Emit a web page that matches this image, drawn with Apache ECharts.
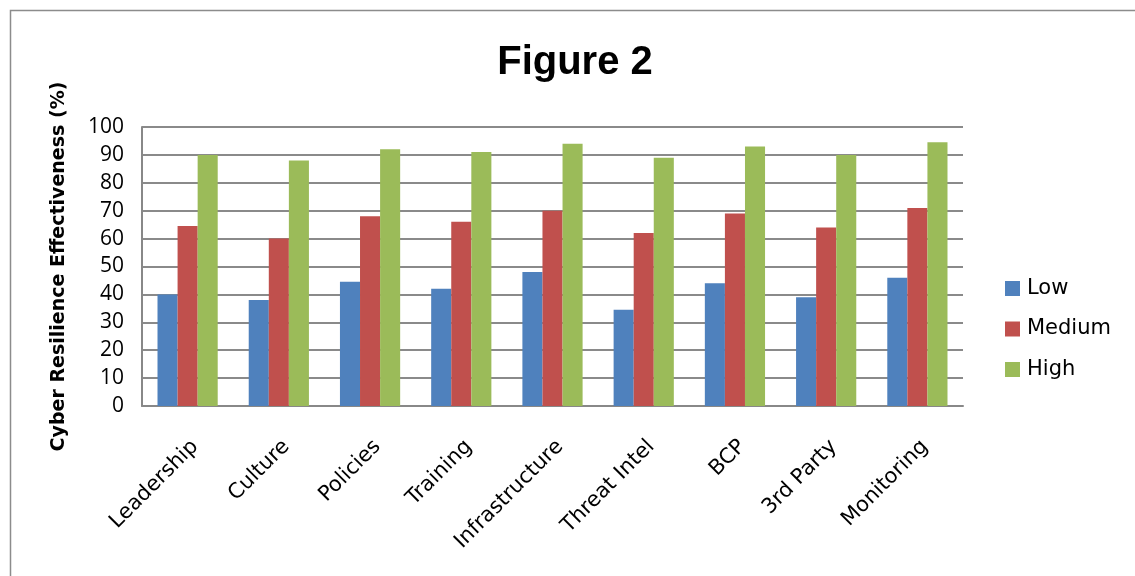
<!DOCTYPE html>
<html><head><meta charset="utf-8">
<script src="https://cdn.jsdelivr.net/npm/echarts@6/dist/echarts.min.js"></script>
<style>html,body{margin:0;padding:0;background:#fff}#c{width:1135px;height:576px}</style>
</head><body><div id="c"></div>
<script>
const categories = ['Leadership','Culture','Policies','Training','Infrastructure','Threat Intel','BCP','3rd Party','Monitoring'];
const lowValues = [40,38,44.5,42,48,34.5,44,39,46];
const mediumValues = [64.5,60,68,66,70,62,69,64,71];
const highValues = [90,88,92,91,94,89,93,90,94.5];
const yTicks = [0,10,20,30,40,50,60,70,80,90,100];

const chart = echarts.init(document.getElementById('c'), null, {renderer:'canvas'});
const titleFont = 'Liberation Sans Narrow, Liberation Sans, sans-serif';
chart.setOption({
  animation:false,
  backgroundColor:'#fff',
  graphic:[{type:'rect', shape:{x:10.5,y:10.5,width:1200,height:700}, style:{fill:'none', stroke:'#8c8c8c', lineWidth:1.5}, silent:true}],
  title:{text:'Figure 2', left:570, textAlign:'center', top:38,
    textStyle:{fontFamily:titleFont, fontWeight:'bold', fontSize:40, color:'#000'}},
  legend:{orient:'vertical', left:1000, top:271, itemWidth:15, itemHeight:15, itemGap:15.5,
    icon:'rect', textStyle:{fontFamily:'DejaVu Sans, sans-serif', fontSize:21, color:'#000', lineHeight:25, padding:[0,0,0,2]},
    data:['Low','Medium','High']},
  grid:{left:142, right:172, top:127, bottom:170},
  xAxis:{type:'category', data:categories,
    axisLine:{lineStyle:{color:'#888', width:2}}, axisTick:{show:false},
    axisLabel:{rotate:45, interval:0, fontFamily:'DejaVu Sans, sans-serif', fontSize:21, color:'#000', margin:30, verticalAlign:'top'}},
  yAxis:{type:'value', min:0, max:100, interval:10,
    name:'Cyber Resilience Effectiveness (%)', nameLocation:'middle', nameGap:73, nameRotate:90,
    nameTextStyle:{fontFamily:'DejaVu Sans, sans-serif', fontWeight:'bold', fontSize:19, color:'#000'},
    axisLine:{show:true, lineStyle:{color:'#888', width:2}},
    axisTick:{show:false},
    axisLabel:{fontFamily:'Open Sans, sans-serif', fontSize:21, color:'#000', margin:18,
      formatter:v=>yTicks.includes(v)?String(v):''},
    splitLine:{lineStyle:{color:'#8a8a8a', width:2}}},
  series:[
    {name:'Low', type:'bar', data:lowValues, barGap:'0%', barCategoryGap:'34%', itemStyle:{color:'#4f81bd'}},
    {name:'Medium', type:'bar', data:mediumValues, itemStyle:{color:'#c0504d'}},
    {name:'High', type:'bar', data:highValues, itemStyle:{color:'#9bbb59'}}
  ]
});
</script></body></html>
